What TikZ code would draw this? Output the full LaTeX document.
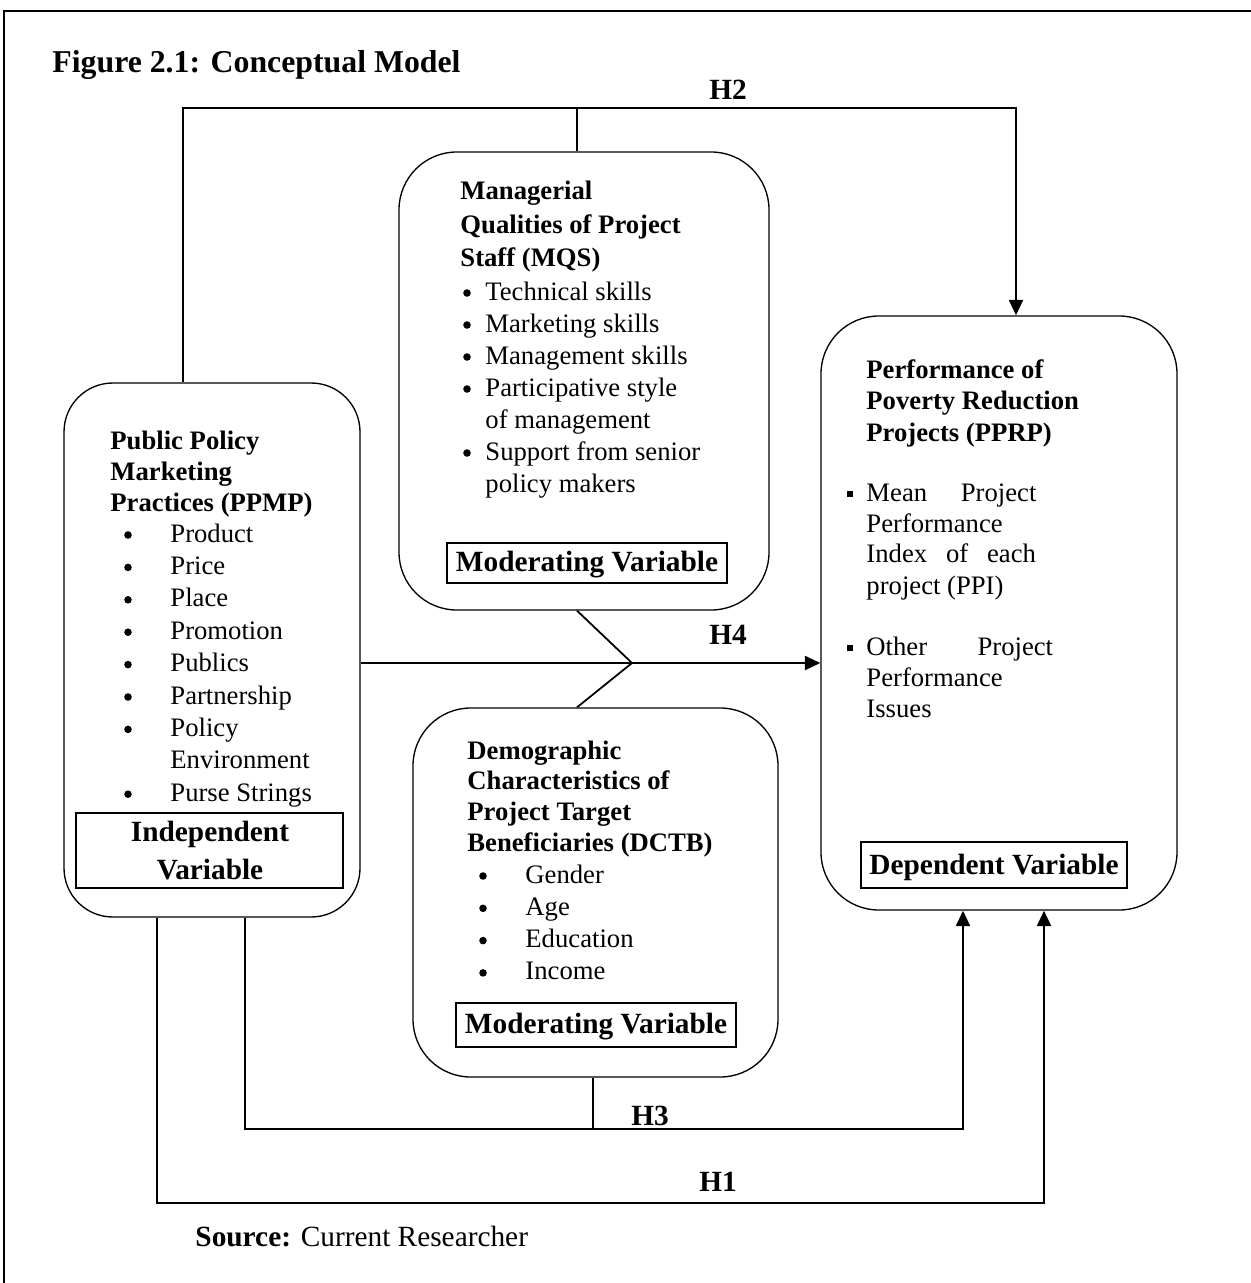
\documentclass[tikz,border=0pt]{standalone}
\usepackage{fontspec}
\setmainfont{Liberation Serif}
\usetikzlibrary{arrows.meta,fit}
\begin{document}
\begin{tikzpicture}[x=0.45pt,y=-0.45pt,
  rbox/.style={draw, line width=0.6pt, rounded corners=26pt, inner sep=0pt},
  vbox/.style={draw, line width=0.7pt, fill=white, inner sep=0pt},
  conn/.style={line width=1.1pt},
  thinc/.style={line width=0.6pt},
  arr/.style={-{Triangle[width=6.3pt,length=7pt]}},
  lab/.style={font=\fontsize{13.2}{15}\selectfont\bfseries, inner sep=0pt},
  ttl/.style={font=\fontsize{12}{14}\selectfont\bfseries, anchor=base west, inner sep=0pt},
  lst/.style={font=\fontsize{12}{14}\selectfont, anchor=base west, inner sep=0pt},
  vlab/.style={font=\fontsize{13.2}{15}\selectfont\bfseries, anchor=base, inner sep=0pt},
  bul/.style={circle, fill, inner sep=0pt, minimum size=3.4pt},
  sqb/.style={fill, inner sep=0pt, minimum size=2.6pt}
]
\useasboundingbox (0,0) rectangle (1251,1283);
% frame
\draw[line width=1pt] (4,1283) -- (4,11) -- (1251,11);
% title
\node[font=\fontsize{14.3}{16}\selectfont\bfseries, anchor=base west, inner sep=0pt] (title) at (52,72) {Figure 2.1: Conceptual Model};

% ---------- PPMP ----------
\node[rbox, rounded corners=22pt, fit={(64,383)(360,917)}] (ppmp) {};
\node[ttl] (ppt1) at (110,449) {Public Policy};
\node[ttl] (ppt2) at (110,480) {Marketing};
\node[ttl] (ppt3) at (110,511) {Practices (PPMP)};
\foreach \t [count=\i from 0] in {Product,Price,Place,Promotion,Publics,Partnership,Policy,Environment,Purse Strings}{
  \node[lst] (ppl\i) at (170,{542+\i*32.4}) {\t};
}
\foreach \i in {0,1,2,3,4,5,6,8}{
  \node[bul] (ppb\i) at (128,{535+\i*32.4}) {};
}
\node[vbox, fit={(76,813)(343,888)}] (ind) {};
\node[vlab] (ind1) at (210,841) {Independent};
\node[vlab] (ind2) at (210,879) {Variable};

% ---------- MQS ----------
\node[rbox, fit={(399,152)(769,610)}] (mqs) {};
\node[ttl] (mqt1) at (460,199) {Managerial};
\node[ttl] (mqt2) at (460,233) {Qualities of Project};
\node[ttl] (mqt3) at (460,266) {Staff (MQS)};
\foreach \t [count=\i from 0] in {Technical skills,Marketing skills,Management skills,Participative style,of management,Support from senior,policy makers}{
  \node[lst] (mql\i) at (485,{300+\i*32}) {\t};
}
\foreach \i in {0,1,2,3,5}{
  \node[bul] (mqb\i) at (467,{293+\i*32}) {};
}
\node[vbox, fit={(447,543)(727,583)}] (mod1) {};
\node[vlab] (mod1t) at (587,571) {Moderating Variable};

% ---------- DCTB ----------
\node[rbox, fit={(413,708)(778,1077)}] (dctb) {};
\node[ttl] (dct1) at (467,759) {Demographic};
\node[ttl] (dct2) at (467,789) {Characteristics of};
\node[ttl] (dct3) at (467,820) {Project Target};
\node[ttl] (dct4) at (467,851) {Beneficiaries (DCTB)};
\foreach \t [count=\i from 0] in {Gender,Age,Education,Income}{
  \node[lst] (dcl\i) at (525,{883+\i*32.3}) {\t};
  \node[bul] (dcb\i) at (483,{876+\i*32.3}) {};
}
\node[vbox, fit={(456,1003)(736,1047)}] (mod2) {};
\node[vlab] (mod2t) at (596,1033) {Moderating Variable};

% ---------- PPRP ----------
\node[rbox, fit={(821,316)(1177,910)}] (pprp) {};
\node[ttl] (prt1) at (866,378) {Performance of};
\node[ttl] (prt2) at (866,409) {Poverty Reduction};
\node[ttl] (prt3) at (866,441) {Projects (PPRP)};
\node[sqb] (prs1) at (850,494) {};
\node[lst] (prl1) at (866,501) {\makebox[76.5pt][s]{Mean\hfill Project}};
\node[lst] (prl2) at (866,532) {Performance};
\node[lst] (prl3) at (866,562) {\makebox[76.3pt][s]{Index\hfill of\hfill each}};
\node[lst] (prl4) at (866,594) {project (PPI)};
\node[sqb] (prs2) at (850,648) {};
\node[lst] (prl5) at (866,655) {\makebox[84pt][s]{Other\hfill Project}};
\node[lst] (prl6) at (866,686) {Performance};
\node[lst] (prl7) at (866,717) {Issues};
\node[vbox, fit={(861,842)(1127,888)}] (dep) {};
\node[vlab] (dept) at (994,874) {Dependent Variable};

% ---------- connectors ----------
% H2
\coordinate (h2l) at (183,108);
\coordinate (h2m) at (577,108);
\coordinate (h2r) at (1016,108);
\draw[conn,arr] (h2l |- ppmp.north) -- (h2l) -- (h2r) -- (h2r |- pprp.north);
\draw[thinc] (h2m) -- (h2m |- mqs.north);
\node[lab] (h2) at (728,90) {H2};
% H4
\coordinate (h4) at (632,663);
\coordinate (dg) at (577,663);
\draw[conn,arr] (ppmp.east |- h4) -- (pprp.west |- h4);
\draw[line width=0.8pt] (dg |- mqs.south) -- (h4) -- (dg |- dctb.north);
\node[lab] (h4l) at (728,635) {H4};
% H3
\coordinate (h3l) at (245,1129);
\coordinate (h3r) at (963,1129);
\coordinate (h3m) at (593,1129);
\draw[conn,arr] (h3l |- ppmp.south) -- (h3l) -- (h3r) -- (h3r |- pprp.south);
\draw[thinc] (h3m |- dctb.south) -- (h3m);
\node[lab] (h3) at (650,1116) {H3};
% H1
\coordinate (h1l) at (157,1203);
\coordinate (h1r) at (1044,1203);
\draw[conn,arr] (h1l |- ppmp.south) -- (h1l) -- (h1r) -- (h1r |- pprp.south);
\node[lab] (h1) at (718,1182) {H1};

% source
\node[font=\fontsize{13.2}{15}\selectfont, anchor=base west, inner sep=0pt] (src) at (195,1246) {\textbf{Source:} Current Researcher};
\end{tikzpicture}
\end{document}
